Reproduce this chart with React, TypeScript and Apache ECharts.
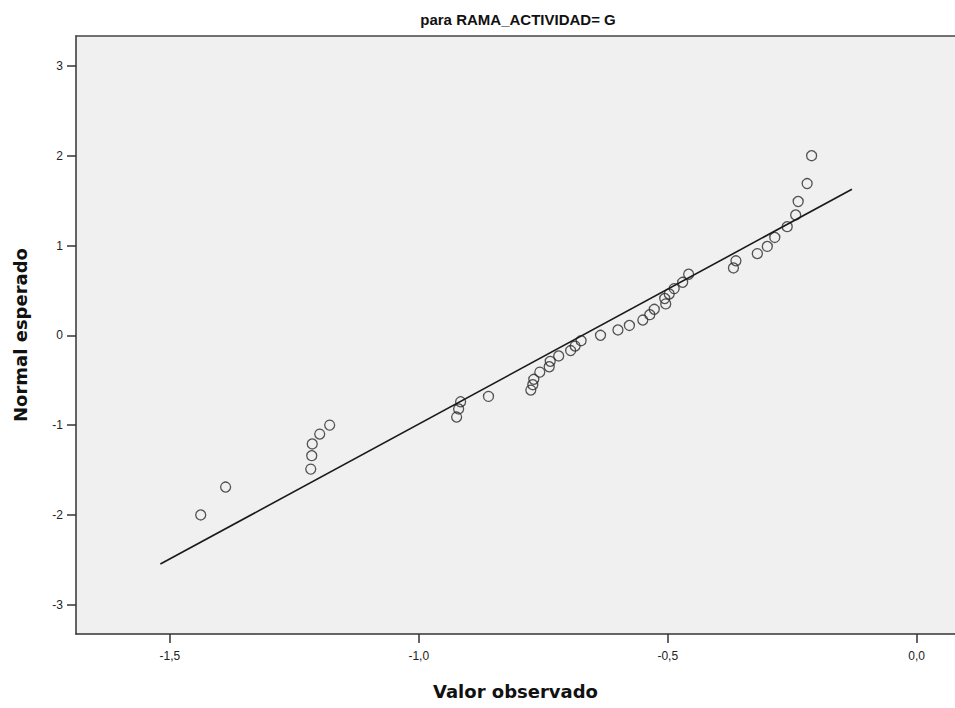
import React, { useEffect, useRef } from "react";
import * as echarts from "echarts";

const titleText = "para RAMA_ACTIVIDAD= G";
const xAxisName = "Valor observado";
const yAxisName = "Normal esperado";

const observedValues = [
  -1.438, -1.388, -1.217, -1.215, -1.214, -1.199, -1.179, -0.924, -0.920, -0.916,
  -0.860, -0.775, -0.771, -0.769, -0.757, -0.738, -0.736, -0.719, -0.695, -0.686,
  -0.674, -0.635, -0.600, -0.577, -0.550, -0.536, -0.527, -0.504, -0.506, -0.497,
  -0.487, -0.470, -0.458, -0.368, -0.363, -0.320, -0.300, -0.285, -0.260, -0.243,
  -0.238, -0.220, -0.211,
];
const expectedNormal = [
  -2.0, -1.69, -1.49, -1.34, -1.21, -1.10, -1.0, -0.91, -0.82, -0.74,
  -0.68, -0.61, -0.55, -0.49, -0.41, -0.35, -0.29, -0.23, -0.17, -0.12,
  -0.06, 0.0, 0.06, 0.11, 0.17, 0.23, 0.29, 0.35, 0.41, 0.46,
  0.52, 0.59, 0.68, 0.75, 0.83, 0.91, 0.99, 1.09, 1.21, 1.34,
  1.49, 1.69, 2.0,
];
const lineX = [-1.519, -0.13];
const lineY = [-2.547, 1.626];

const xTicks = [-1.5, -1.0, -0.5, 0.0];
const yTicks = [-3, -2, -1, 0, 1, 2, 3];

const X_MIN = -1.6885;
const X_MAX = 0.077;

export default function App() {
  const ref = useRef<HTMLDivElement>(null);
  useEffect(() => {
    if (!ref.current) return;
    const chart = echarts.init(ref.current, null, { renderer: "svg" });
    const labelFont = "'Liberation Sans', Arial, sans-serif";
    const nameStyle = {
      fontFamily: "'DejaVu Sans', Verdana, sans-serif",
      fontWeight: "bold",
      fontSize: 18,
      color: "#111",
    };
    chart.setOption({
      animation: false,
      backgroundColor: "#ffffff",
      title: {
        text: titleText,
        left: 513,
        top: 7,
        textAlign: "center",
        textStyle: {
          fontFamily: "'Liberation Sans Narrow', 'Liberation Sans', Arial, sans-serif",
          fontWeight: "bold",
          fontSize: 15,
          color: "#111",
        },
      },
      grid: {
        left: 76,
        top: 36,
        right: 0,
        bottom: 74,
        show: true,
        backgroundColor: "#f0f0f0",
        borderWidth: 0,
      },
      xAxis: [
        {
          type: "value",
          min: X_MIN,
          max: X_MAX,
          name: xAxisName,
          nameLocation: "middle",
          nameGap: 48,
          nameTextStyle: nameStyle,
          splitLine: { show: false },
          axisLine: { onZero: false, lineStyle: { color: "#333", width: 1.5 } },
          axisTick: {
            show: true,
            length: 9,
            customValues: xTicks,
            lineStyle: { color: "#333", width: 1.5 },
          },
          axisLabel: {
            customValues: xTicks,
            margin: 16,
            fontFamily: labelFont,
            fontSize: 12,
            color: "#222",
            formatter: (v: number) => v.toFixed(1).replace(".", ","),
          },
        },
        {
          type: "value",
          position: "top",
          min: X_MIN,
          max: X_MAX,
          splitLine: { show: false },
          axisLine: { onZero: false, lineStyle: { color: "#444", width: 1.5 } },
          axisTick: { show: false },
          axisLabel: { show: false },
        },
      ],
      yAxis: {
        type: "value",
        min: -3.326,
        max: 3.333,
        name: yAxisName,
        nameLocation: "middle",
        nameGap: 47,
        nameTextStyle: nameStyle,
        splitLine: { show: false },
        axisLine: { onZero: false, lineStyle: { color: "#333", width: 1.5 } },
        axisTick: {
          show: true,
          length: 9,
          customValues: yTicks,
          lineStyle: { color: "#333", width: 1.5 },
        },
        axisLabel: {
          customValues: yTicks,
          margin: 13,
          fontFamily: labelFont,
          fontSize: 12,
          color: "#222",
          formatter: (v: number) => String(v),
        },
      },
      series: [
        {
          type: "line",
          xAxisIndex: 0,
          data: lineX.map((x, i) => [x, lineY[i]]),
          symbol: "none",
          lineStyle: { color: "#1a1a1a", width: 1.6 },
          silent: true,
        },
        {
          type: "scatter",
          xAxisIndex: 0,
          data: observedValues.map((x, i) => [x, expectedNormal[i]]),
          symbol: "circle",
          symbolSize: 10,
          itemStyle: {
            color: "rgba(0,0,0,0)",
            borderColor: "#2a2a2a",
            borderWidth: 1.3,
          },
        },
      ],
    });
    return () => chart.dispose();
  }, []);
  return (
    <div
      ref={ref}
      style={{ position: "fixed", left: 0, top: 0, width: 955, height: 708, background: "#fff" }}
    />
  );
}
